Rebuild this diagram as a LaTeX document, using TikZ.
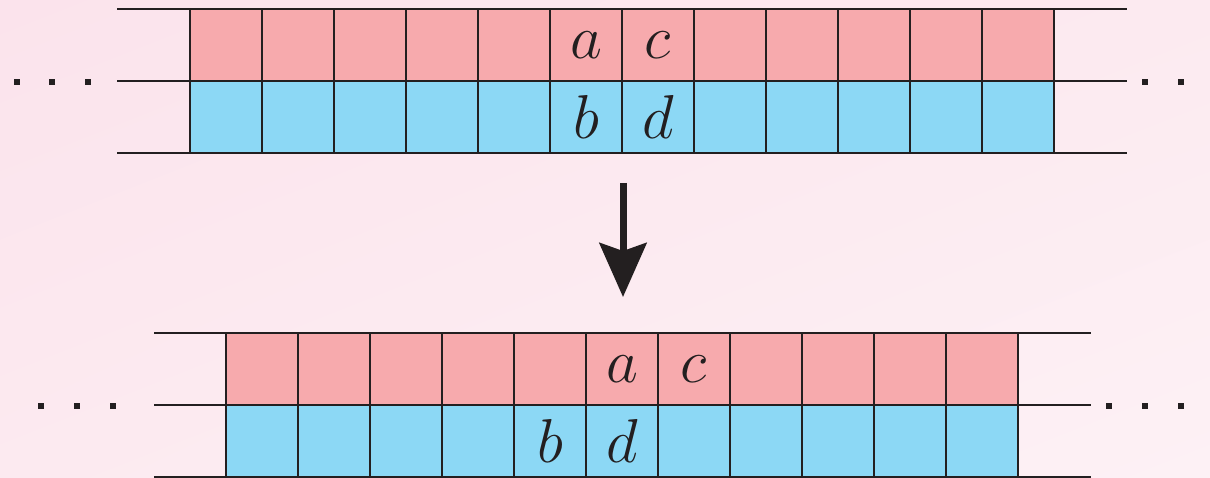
\documentclass[tikz,border=0pt]{standalone}
\usepackage{fix-cm}
\usetikzlibrary{arrows.meta,shadings}
\definecolor{bgA}{RGB}{251,227,236}
\definecolor{bgB}{RGB}{253,241,245}
\definecolor{bgM}{RGB}{252,234,240}
\definecolor{redcell}{RGB}{247,170,173}
\definecolor{bluecell}{RGB}{140,216,245}
\definecolor{ink}{RGB}{35,31,32}
\tikzset{
  cellbox/.style={draw=ink, line width=1.2pt, minimum width=72pt, minimum height=72pt,
    inner sep=0pt, outer sep=0pt, anchor=north west},
  topcell/.style={cellbox, fill=redcell},
  botcell/.style={cellbox, fill=bluecell},
  letter/.style={inner sep=0pt, text=ink, font=\fontsize{62}{62}\selectfont},
  rail/.style={draw=ink, line width=1.1pt},
  dotmark/.style={fill=ink},
  bigarrow/.style={draw=ink, line width=7pt,
    -{Stealth[length=54pt, width=47pt, inset=8pt]}}
}
\begin{document}
\begin{tikzpicture}[x=1pt, y=-1pt]
  \shade[upper left=bgA, lower left=bgM, upper right=bgM, lower right=bgB]
    (0,0) rectangle (1210,478);
  \useasboundingbox (0,0) rectangle (1210,478);

  % ---- upper strip ----
  \foreach \i in {1,...,12} {
    \pgfmathsetmacro{\xx}{190+72*(\i-1)}
    \node[topcell] (u\i) at (\xx,9) {};
    \node[botcell] (v\i) at (\xx,81) {};
  }
  \node[letter] (ua) at (u6.center) {$a$};
  \node[letter] (uc) at (u7.center) {$c$};
  \node[letter] (ub) at (v6.center) {$b$};
  \node[letter] (ud) at (v7.center) {$d$};

  \coordinate (uL1) at (117,9);   \coordinate (uR1) at (1127,9);
  \coordinate (uL2) at (117,81);  \coordinate (uR2) at (1127,81);
  \coordinate (uL3) at (117,153); \coordinate (uR3) at (1127,153);
  \draw[rail] (uL1) -- (u1.north west);  \draw[rail] (u12.north east) -- (uR1);
  \draw[rail] (uL2) -- (u1.south west);  \draw[rail] (u12.south east) -- (uR2);
  \draw[rail] (uL3) -- (v1.south west);  \draw[rail] (v12.south east) -- (uR3);

  \foreach \x in {17,52,88,1145,1181,1216}
    \fill[dotmark] (\x-3,79) rectangle (\x+3,85);

  % ---- arrow ----
  \coordinate (arrS) at (623,183);
  \coordinate (arrE) at (623,297);
  \draw[bigarrow] (arrS) -- (arrE);

  % ---- lower strip ----
  \foreach \i in {1,...,11} {
    \pgfmathsetmacro{\xx}{226+72*(\i-1)}
    \node[topcell] (p\i) at (\xx,333) {};
    \node[botcell] (q\i) at (\xx,405) {};
  }
  \node[letter] (pa) at (p6.center) {$a$};
  \node[letter] (pc) at (p7.center) {$c$};
  \node[letter] (qb) at (q5.center) {$b$};
  \node[letter] (qd) at (q6.center) {$d$};

  \coordinate (pL1) at (154,333); \coordinate (pR1) at (1091,333);
  \coordinate (pL2) at (154,405); \coordinate (pR2) at (1091,405);
  \coordinate (pL3) at (154,477); \coordinate (pR3) at (1091,477);
  \draw[rail] (pL1) -- (p1.north west);  \draw[rail] (p11.north east) -- (pR1);
  \draw[rail] (pL2) -- (p1.south west);  \draw[rail] (p11.south east) -- (pR2);
  \draw[rail] (pL3) -- (q1.south west);  \draw[rail] (q11.south east) -- (pR3);

  \foreach \x in {41,77,113,1109,1145,1181}
    \fill[dotmark] (\x-3,403) rectangle (\x+3,409);
\end{tikzpicture}
\end{document}
